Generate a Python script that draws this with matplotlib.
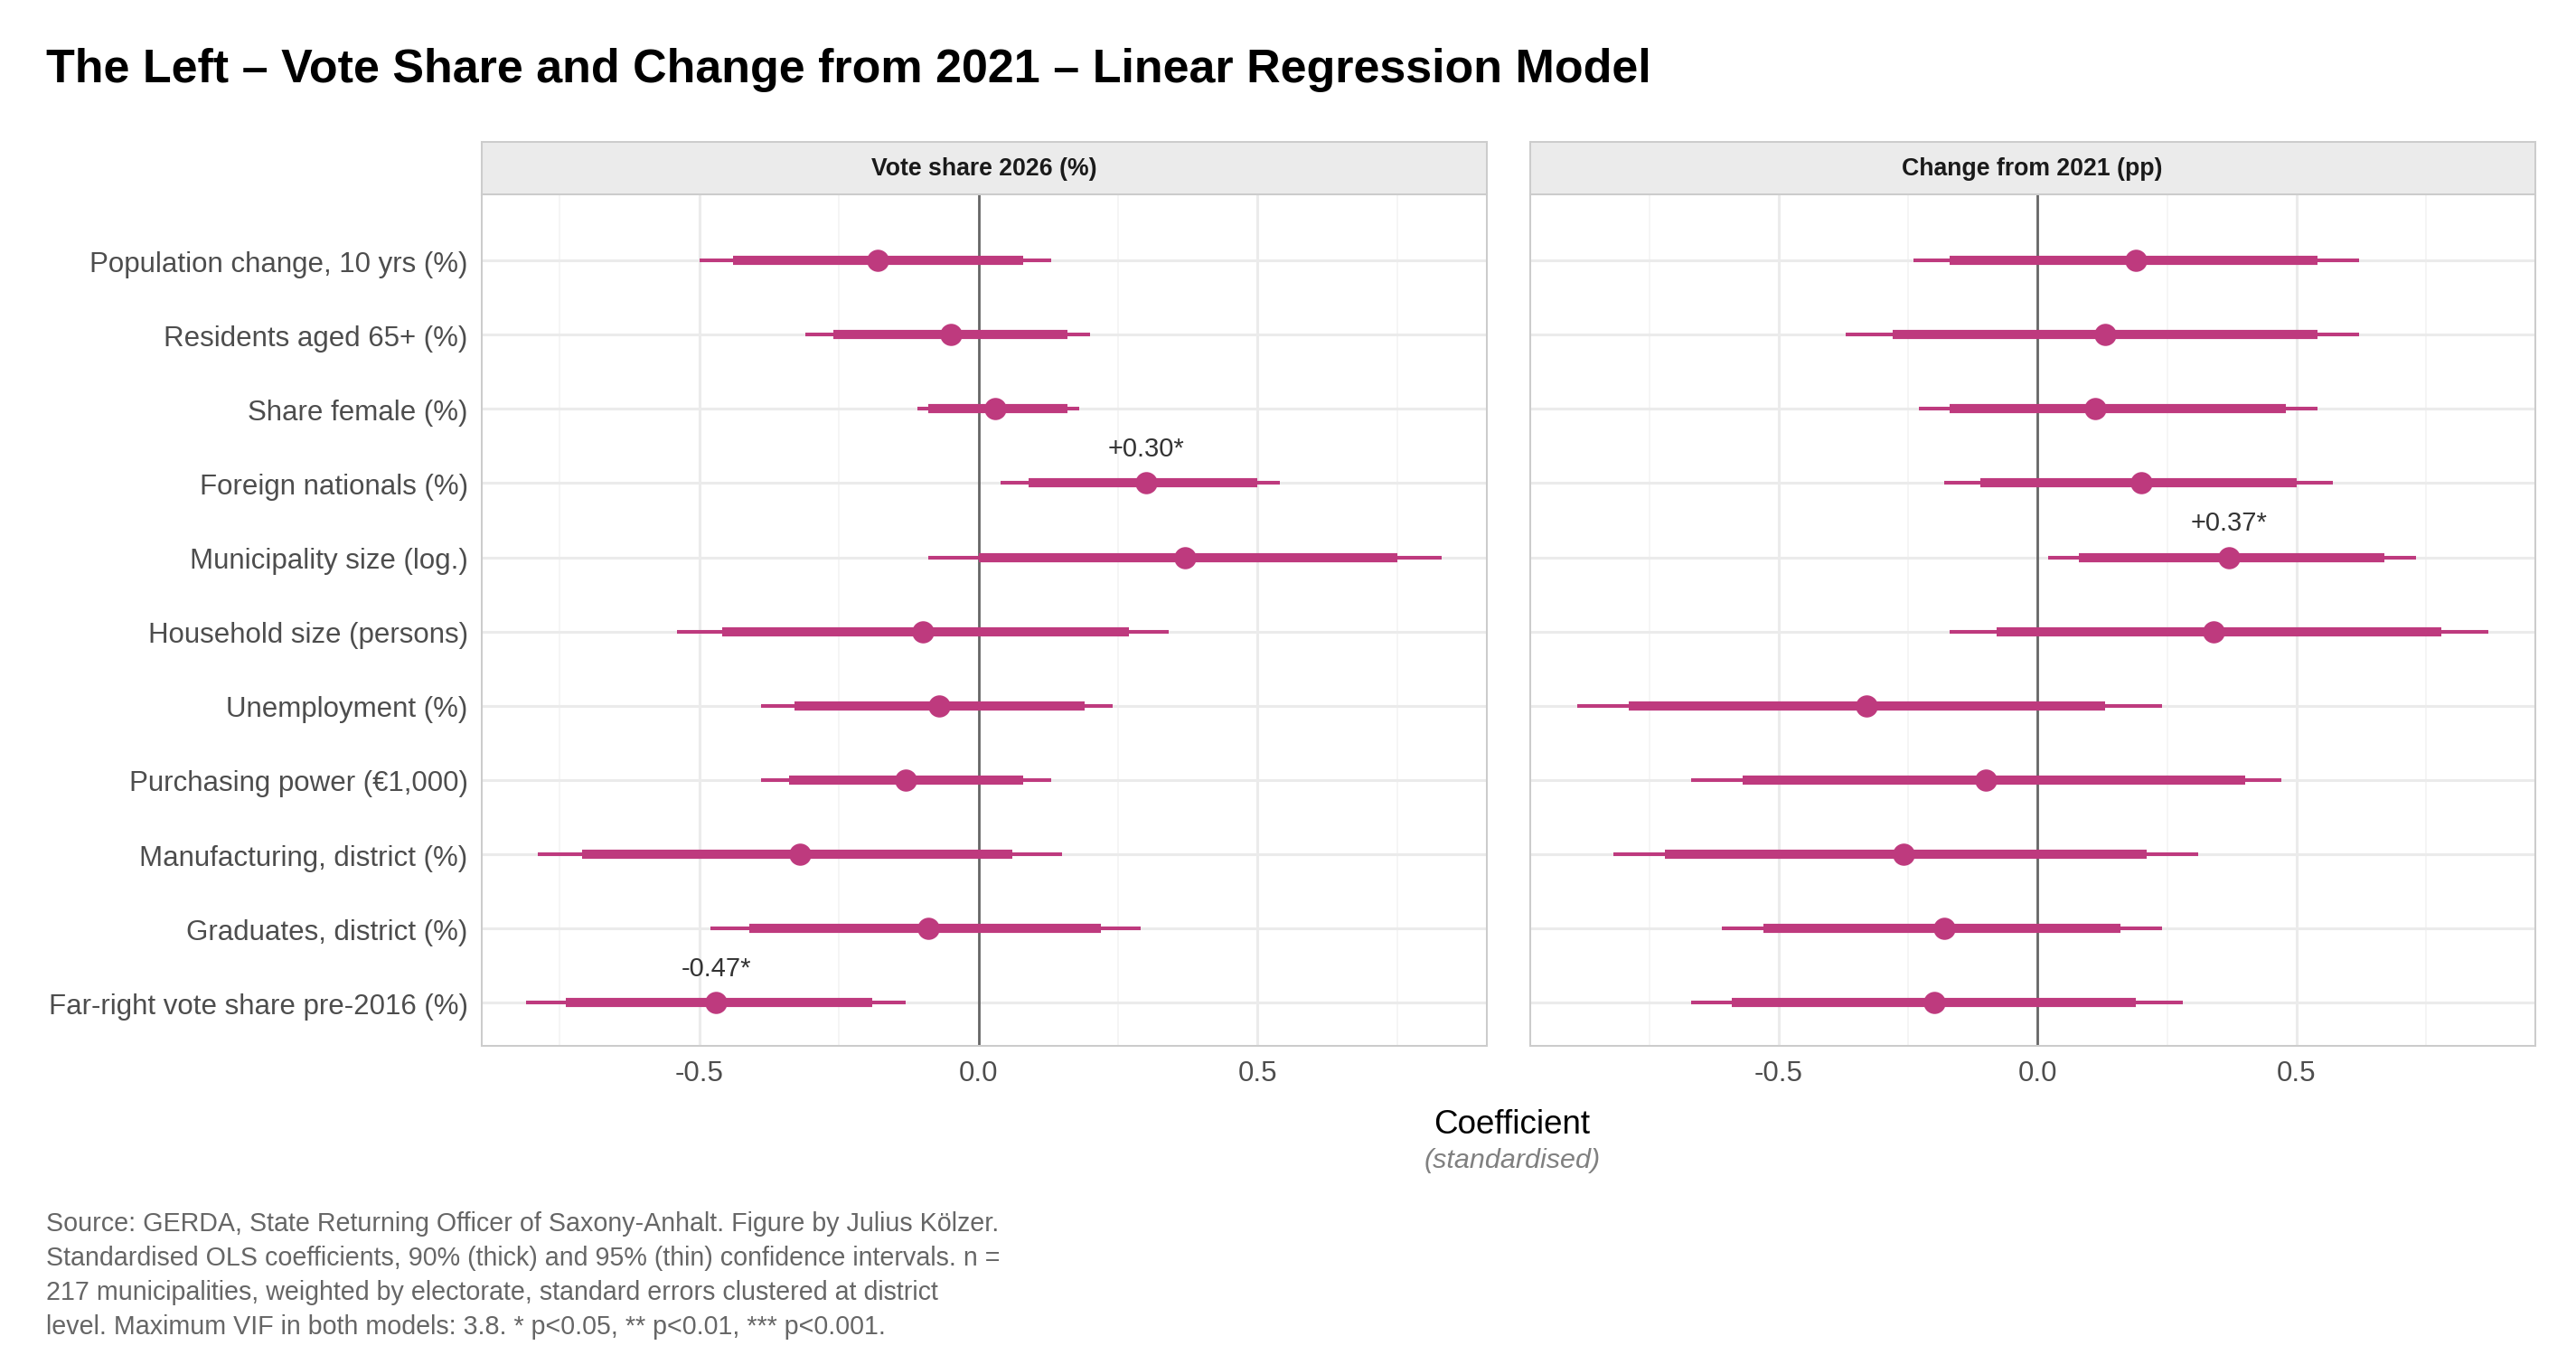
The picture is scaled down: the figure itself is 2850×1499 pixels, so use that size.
import matplotlib.pyplot as plt
import numpy as np

terms = ['Population change, 10 yrs (%)', 'Residents aged 65+ (%)', 'Share female (%)',
         'Foreign nationals (%)', 'Municipality size (log.)', 'Household size (persons)',
         'Unemployment (%)', 'Purchasing power (€1,000)', 'Manufacturing, district (%)',
         'Graduates, district (%)', 'Far-right vote share pre-2016 (%)']

# vote share model
vs_est = [-0.18, -0.05, 0.03, 0.30, 0.37, -0.10, -0.07, -0.13, -0.32, -0.09, -0.47]
vs_lo90 = [-0.44, -0.26, -0.09, 0.09, 0.00, -0.46, -0.33, -0.34, -0.71, -0.41, -0.74]
vs_hi90 = [0.08, 0.16, 0.16, 0.50, 0.75, 0.27, 0.19, 0.08, 0.06, 0.22, -0.19]
vs_lo95 = [-0.50, -0.31, -0.11, 0.04, -0.09, -0.54, -0.39, -0.39, -0.79, -0.48, -0.81]
vs_hi95 = [0.13, 0.20, 0.18, 0.54, 0.83, 0.34, 0.24, 0.13, 0.15, 0.29, -0.13]
vs_sig = ['', '', '', '*', '', '', '', '', '', '', '*']

# change model
ch_est = [0.19, 0.13, 0.11, 0.20, 0.37, 0.34, -0.33, -0.10, -0.26, -0.18, -0.20]
ch_lo90 = [-0.17, -0.28, -0.17, -0.11, 0.08, -0.08, -0.79, -0.57, -0.72, -0.53, -0.59]
ch_hi90 = [0.54, 0.54, 0.48, 0.50, 0.67, 0.78, 0.13, 0.40, 0.21, 0.16, 0.19]
ch_lo95 = [-0.24, -0.37, -0.23, -0.18, 0.02, -0.17, -0.89, -0.67, -0.82, -0.61, -0.67]
ch_hi95 = [0.62, 0.62, 0.54, 0.57, 0.73, 0.87, 0.24, 0.47, 0.31, 0.24, 0.28]
ch_sig = ['', '', '', '', '*', '', '', '', '', '', '']

col = '#BE3A7E'
plt.rcParams['font.family'] = ['Liberation Sans', 'DejaVu Sans']

fig = plt.figure(figsize=(15.6, 8.21), dpi=182.7)
panels = [
    ('Vote share 2026 (%)', vs_est, vs_lo90, vs_hi90, vs_lo95, vs_hi95, vs_sig, (-0.89, 0.91), [0.187, 0.228, 0.390, 0.628]),
    ('Change from 2021 (pp)', ch_est, ch_lo90, ch_hi90, ch_lo95, ch_hi95, ch_sig, (-0.98, 0.96), [0.594, 0.228, 0.390, 0.628]),
]
y = np.arange(len(terms))
for k, (name, est, lo90, hi90, lo95, hi95, sig, xl, rect) in enumerate(panels):
    ax = fig.add_axes(rect)
    for xv in [-0.75, -0.25, 0.25, 0.75]:
        ax.axvline(xv, color='#F2F2F2', lw=0.6, zorder=0)
    for xv in [-0.5, 0.5]:
        ax.axvline(xv, color='#EBEBEB', lw=1.2, zorder=0)
    for yy in y:
        ax.axhline(yy, color='#EBEBEB', lw=1.2, zorder=0)
    ax.axvline(0, color='#666666', lw=1.1, zorder=1)
    ax.hlines(y, lo95, hi95, color=col, lw=1.6, zorder=2)
    ax.hlines(y, lo90, hi90, color=col, lw=4, zorder=3)
    ax.scatter(est, y, s=75, color=col, zorder=4)
    for yy, e, s in zip(y, est, sig):
        if s:
            ax.text(e, yy - 0.3, f'{e:+.2f}{s}', ha='center', va='bottom', fontsize=11.5, color='#333333')
    ax.set_xlim(*xl)
    ax.set_ylim(10.58, -0.89)
    ax.set_xticks([-0.5, 0.0, 0.5])
    ax.set_xticklabels(['-0.5', '0.0', '0.5'])
    ax.set_yticks(y)
    ax.set_yticklabels(terms if k == 0 else [])
    ax.tick_params(length=0, labelsize=12.3, labelcolor='#4D4D4D', pad=6)
    for sp in ax.spines.values():
        sp.set_color('#CCCCCC')
        sp.set_linewidth(0.8)
    sax = fig.add_axes([rect[0], 0.856, rect[2], 0.039])
    sax.set_facecolor('#EBEBEB')
    sax.set_xticks([]); sax.set_yticks([])
    for sp in sax.spines.values():
        sp.set_color('#CCCCCC')
        sp.set_linewidth(0.8)
    sax.text(0.5, 0.5, name, ha='center', va='center', fontsize=10.5, fontweight='bold', color='#1A1A1A')

fig.text(0.018, 0.948, 'The Left – Vote Share and Change from 2021 – Linear Regression Model',
         fontsize=20.5, fontweight='bold', va='center')
fig.text(0.587, 0.170, 'Coefficient', ha='center', va='center', fontsize=14.5)
fig.text(0.587, 0.144, '(standardised)', ha='center', va='center', fontsize=12, style='italic', color='#808080')
fig.text(0.018, 0.012,
         'Source: GERDA, State Returning Officer of Saxony-Anhalt. Figure by Julius Kölzer.\n'
         'Standardised OLS coefficients, 90% (thick) and 95% (thin) confidence intervals. n =\n'
         '217 municipalities, weighted by electorate, standard errors clustered at district\n'
         'level. Maximum VIF in both models: 3.8. * p<0.05, ** p<0.01, *** p<0.001.',
         fontsize=11.3, color='#666666', va='bottom', linespacing=1.45)
fig.savefig('out.png', dpi=182.7)
